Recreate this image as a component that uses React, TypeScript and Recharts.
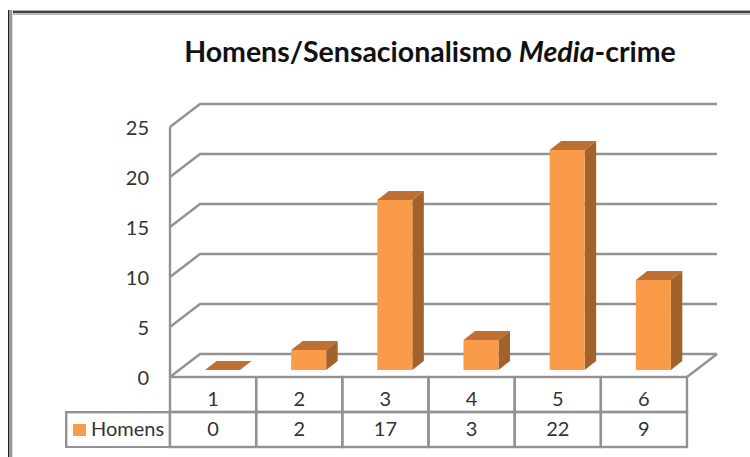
import { BarChart, Bar, XAxis, YAxis, CartesianGrid, Legend } from "recharts";

const categories = ["1", "2", "3", "4", "5", "6"];
const homens = [0, 2, 17, 3, 22, 9];
const yTicks = [0, 5, 10, 15, 20, 25];
const seriesName = "Homens";

const data = categories.map((cat, i) => ({ cat, homens: homens[i] }));

const GRID = "#929292";
const TEXT = "#333333";
const FONT = "Lato, 'Open Sans', sans-serif";
const ROW = 35;

// the bars stand between the front edge of the floor and the back wall
const FRONT = { dx: -9, dy: 7 };
const BACK = { dx: 21, dy: -16 };

function Bar3D({ x, y, width, height }: any) {
  const dx = 11.5;
  const dy = -9;
  const r = x + width;
  const b = y + height;
  return (
    <g>
      <polygon points={`${x},${y} ${r},${y} ${r + dx},${y + dy} ${x + dx},${y + dy}`} fill="#BC7033" />
      <polygon points={`${r},${y} ${r + dx},${y + dy} ${r + dx},${b + dy} ${r},${b}`} fill="#A2622B" />
      <rect x={x} y={y} width={width} height={height} fill="#F99B48" />
    </g>
  );
}

function GridLine({ x, y, width, height, y1 }: any) {
  const fx = x + FRONT.dx;
  const bx = x + BACK.dx;
  const ex = x + width + BACK.dx;
  const isFloor = Math.abs(y1 - (y + height)) < 1;
  const isTop = Math.abs(y1 - y) < 1;
  return (
    <g fill="none" stroke={GRID} strokeWidth={2.4}>
      <polyline points={`${fx},${y1 + FRONT.dy} ${bx},${y1 + BACK.dy} ${ex},${y1 + BACK.dy}`} />
      {isFloor && <line x1={ex} y1={y1 + BACK.dy} x2={x + width + FRONT.dx} y2={y1 + FRONT.dy} />}
      {isTop && <line x1={fx} y1={y + FRONT.dy} x2={fx} y2={y + height + FRONT.dy} />}
    </g>
  );
}

function YTick({ y, payload }: any) {
  return (
    <text x={149} y={y + FRONT.dy + 8} textAnchor="end" fontSize={20} fontFamily={FONT} fill={TEXT}>
      {payload.value}
    </text>
  );
}

// one column of the data table: category row on top, value row underneath
function TableTick({ x, y, payload, index, width }: any) {
  const cell = width / categories.length;
  const top = y + FRONT.dy;
  const cx = x + FRONT.dx;
  return (
    <g>
      <g stroke={GRID} strokeWidth={2.4} fill="none">
        <rect x={cx - cell / 2} y={top} width={cell} height={ROW} />
        <rect x={cx - cell / 2} y={top + ROW} width={cell} height={ROW} />
      </g>
      <g textAnchor="middle" fontSize={20} fontFamily={FONT} fill={TEXT}>
        <text x={cx} y={top + 29}>{payload.value}</text>
        <text x={cx} y={top + ROW + 24}>{homens[index]}</text>
      </g>
    </g>
  );
}

function LegendCell() {
  return (
    <svg width={106} height={37} style={{ position: "absolute", left: 65, top: 411 }}>
      <rect x={1.2} y={1.2} width={103.6} height={35} fill="#fff" stroke={GRID} strokeWidth={2.4} />
      <rect x={8} y={13} width={13} height={12} fill="#F99B48" />
      <text x={26} y={25} fontSize={20} fontFamily={FONT} fill={TEXT}>{seriesName}</text>
    </svg>
  );
}

export default function App() {
  return (
    <div style={{ position: "absolute", left: 0, top: 0, width: 750, height: 457, background: "#fff", overflow: "hidden" }}>
      <div style={{ position: "absolute", left: 8, top: 10, width: 760, height: 5, background: "linear-gradient(#aaa 0 1px, #444 1px 3px, #bbb 3px 5px)" }} />
      <div style={{ position: "absolute", left: 8, top: 10, width: 5, height: 470, background: "linear-gradient(90deg, #222 0 1px, #999 1px 4px, #ddd 4px 5px)" }} />
      <div
        style={{
          position: "absolute",
          left: 0,
          top: 34,
          width: 860,
          textAlign: "center",
          fontFamily: FONT,
          fontWeight: 700,
          fontSize: 28.5,
          color: "#111",
          whiteSpace: "nowrap",
        }}
      >
        Homens/Sensacionalismo <i>Media</i>-crime
      </div>
      <BarChart
        width={750}
        height={457}
        data={data}
        margin={{ top: 120, right: 54, bottom: 0, left: 100 }}
        barCategoryGap={0}
      >
        <CartesianGrid horizontal={(p: any) => <GridLine key={p.key} {...p} />} vertical={false} />
        <XAxis
          dataKey="cat"
          height={87}
          interval={0}
          axisLine={false}
          tickLine={false}
          tickSize={0}
          tickMargin={0}
          tick={(p: any) => <TableTick {...p} width={517} />}
        />
        <YAxis
          width={79}
          domain={[0, 25]}
          ticks={yTicks}
          axisLine={false}
          tickLine={false}
          tick={(p: any) => <YTick {...p} />}
        />
        <Legend layout="horizontal" verticalAlign="middle" align="center" content={() => <LegendCell />} wrapperStyle={{ left: 0, top: 0, width: 0, height: 0 }} />
        <Bar dataKey="homens" name={seriesName} barSize={35} shape={(p: any) => <Bar3D {...p} />} isAnimationActive={false} />
      </BarChart>
    </div>
  );
}
